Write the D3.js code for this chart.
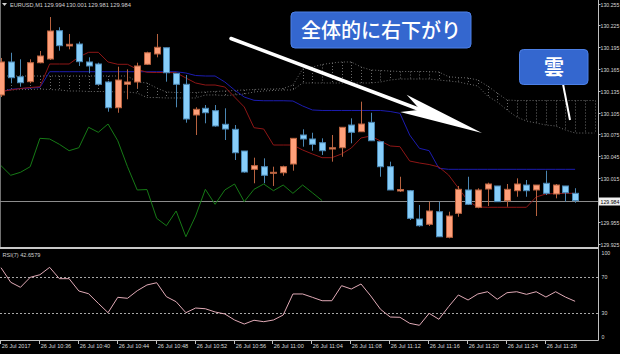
<!DOCTYPE html>
<html><head><meta charset="utf-8">
<script src="https://cdn.jsdelivr.net/npm/d3@7"></script>
<style>html,body{margin:0;padding:0;background:#000;overflow:hidden}</style>
</head><body><svg id="c" width="620" height="354"></svg>
<script>
const symbol = "EURUSD,M1";
const lastOHLC = ["129.994", "130.001", "129.981", "129.984"];
const opens = [130.1292,130.1746,130.1543,130.1475,130.1736,130.1787,130.2176,130.1966,130.1993,130.1746,
130.1718,130.1471,130.1117,130.1439,130.1471,130.1714,130.1856,130.1942,130.1590,130.1439,
130.1017,130.1109,130.1076,130.0889,130.0820,130.0522,130.0270,130.0306,130.0215,130.0223,
130.0343,130.0742,130.0687,130.0636,130.0549,130.0567,130.0879,130.0787,130.0916,130.0650,
130.0306,129.9972,129.9976,129.9587,129.9514,129.9687,129.9335,129.9665,129.9986,129.9748,
129.9999,130.0041,129.9838,129.9976,130.0054,129.9986,130.0078,129.9931,130.0041,129.9940];
const highs = [130.1801,130.1873,130.1783,130.1783,130.1897,130.2364,130.2223,130.2131,130.2025,130.1810,
130.1736,130.1488,130.1681,130.1645,130.1736,130.1887,130.2131,130.1942,130.1590,130.1567,
130.1123,130.1154,130.1154,130.1109,130.0879,130.0522,130.0430,130.0421,130.0306,130.0320,
130.0696,130.0820,130.0773,130.0696,130.0742,130.0848,130.0971,130.1200,130.1048,130.0650,
130.0375,130.0168,129.9986,129.9779,129.9825,129.9825,129.9687,130.0041,130.0168,130.0009,
130.0086,130.0041,130.0068,130.0146,130.0123,130.0054,130.0251,130.0068,130.0041,130.0010];
const lows = [130.1264,130.1453,130.1406,130.1453,130.1728,130.1773,130.1901,130.1920,130.1691,130.1590,
130.1429,130.1062,130.1048,130.1233,130.1384,130.1704,130.1810,130.1475,130.1123,130.0911,
130.0742,130.0903,130.0856,130.0673,130.0398,130.0223,130.0078,130.0078,130.0041,130.0182,
130.0251,130.0581,130.0526,130.0467,130.0375,130.0443,130.0628,130.0787,130.0663,130.0168,
129.9986,129.9958,129.9573,129.9481,129.9491,129.9343,129.9321,129.9618,129.9779,129.9734,
129.9766,129.9825,129.9756,129.9893,129.9893,129.9628,129.9917,129.9871,129.9825,129.9810];
const closes = [130.1746,130.1530,130.1461,130.1736,130.1828,130.2172,130.1970,130.1989,130.1750,130.1691,
130.1439,130.1117,130.1498,130.1471,130.1691,130.1873,130.1948,130.1598,130.1439,130.0962,
130.1095,130.1048,130.0866,130.0824,130.0498,130.0233,130.0320,130.0188,130.0229,130.0306,
130.0696,130.0687,130.0614,130.0526,130.0567,130.0848,130.0779,130.0893,130.0663,130.0306,
129.9986,129.9992,129.9596,129.9495,129.9697,129.9343,129.9628,129.9995,129.9789,129.9986,
130.0068,129.9825,129.9995,130.0068,129.9976,130.0054,129.9940,130.0054,129.9948,129.9840];
const tenkan = [130.1340,130.1361,130.1381,130.1395,130.1406,130.1718,130.1718,130.1718,130.1814,130.1879,
130.1879,130.1746,130.1714,130.1714,130.1645,130.1604,130.1601,130.1601,130.1598,130.1526,
130.1457,130.1429,130.1429,130.1402,130.1264,130.1127,130.0842,130.0824,130.0604,130.0604,
130.0604,130.0536,130.0481,130.0430,130.0430,130.0481,130.0563,130.0701,130.0728,130.0659,
130.0591,130.0581,130.0384,130.0357,130.0336,130.0302,130.0192,130.0013,129.9834,129.9752,
129.9748,129.9748,129.9748,129.9748,129.9748,129.9889,129.9931,129.9937,129.9940,129.9940];
const kijun = [130.1333,130.1370,130.1381,130.1388,130.1395,130.1612,130.1612,130.1612,130.1612,130.1612,
130.1612,130.1612,130.1612,130.1612,130.1612,130.1612,130.1612,130.1612,130.1612,130.1594,
130.1560,130.1553,130.1553,130.1471,130.1361,130.1264,130.1219,130.1213,130.1213,130.1213,
130.1209,130.1141,130.1086,130.1079,130.1079,130.1079,130.1079,130.1079,130.1079,130.1079,
130.1065,130.1040,130.0742,130.0559,130.0526,130.0284,130.0270,130.0270,130.0270,130.0270,
130.0270,130.0270,130.0270,130.0270,130.0270,130.0270,130.0270,130.0270,130.0270,130.0270];
const cloudUpper = [130.1553,130.1553,130.1553,130.1553,130.1553,130.1553,130.1553,130.1553,130.1553,130.1553,
130.1553,130.1553,130.1553,130.1553,130.1471,130.1457,130.1388,130.1333,130.1326,130.1326,
130.1326,130.1333,130.1340,130.1347,130.1354,130.1361,130.1367,130.1374,130.1374,130.1381,
130.1429,130.1649,130.1677,130.1711,130.1732,130.1746,130.1746,130.1677,130.1636,130.1629,
130.1622,130.1615,130.1615,130.1615,130.1615,130.1608,130.1543,130.1532,130.1526,130.1498,
130.1416,130.1319,130.1223,130.1216,130.1216,130.1216,130.1216,130.1216,130.1216,130.1216,
130.1216,130.1216];
const cloudLower = [130.1374,130.1361,130.1367,130.1367,130.1374,130.1367,130.1361,130.1347,130.1347,130.1340,
130.1340,130.1340,130.1333,130.1333,130.1319,130.1257,130.1257,130.1251,130.1251,130.1251,
130.1251,130.1292,130.1292,130.1285,130.1292,130.1306,130.1333,130.1347,130.1354,130.1361,
130.1361,130.1457,130.1457,130.1457,130.1457,130.1457,130.1457,130.1457,130.1457,130.1471,
130.1498,130.1512,130.1512,130.1512,130.1512,130.1498,130.1484,130.1471,130.1443,130.1416,
130.1278,130.1196,130.1086,130.0989,130.0934,130.0907,130.0879,130.0866,130.0811,130.0769,
130.0769,130.0769];
const rsi = [80.0,63.8,58.2,69.3,72.2,80.4,67.8,67.8,54.1,51.1,
40.4,30.0,47.1,46.0,54.4,60.8,63.3,47.8,42.2,30.0,
35.2,34.4,30.8,28.6,21.9,17.4,21.6,20.0,21.9,27.4,
50.8,50.8,47.1,43.3,43.3,60.0,56.3,61.9,48.6,33.8,
25.2,24.9,18.2,16.0,29.3,22.7,36.7,49.7,44.1,50.8,
53.3,44.9,52.2,53.3,50.4,53.3,47.4,53.3,47.4,42.66];
const rsiLabel = "RSI(7) 42.6579";
const chikouShift = 26;
const priceTicks = [130.255,130.225,130.195,130.165,130.135,130.105,130.075,130.045,130.015,129.955,129.925];
const currentPrice = 129.984;
const rsiTicks = [100,70,30,0];
const rsiLevels = [70,30];
const timeTickIdx = [0,4,8,12,16,20,24,28,32,36,40,44,48,52,56];
const timeTickLabels = ["26 Jul 2017","26 Jul 10:36","26 Jul 10:40","26 Jul 10:44","26 Jul 10:48","26 Jul 10:52","26 Jul 10:56","26 Jul 11:00","26 Jul 11:04","26 Jul 11:08","26 Jul 11:12","26 Jul 11:16","26 Jul 11:20","26 Jul 11:24","26 Jul 11:28"];
const note1 = "全体的に右下がり";
const note2 = "雲";

const svg = d3.select("#c");
const W = 620, H = 354, axisX = 598.5, mainBottom = 247, botY = 340.5;
svg.append("rect").attr("width",W).attr("height",H).attr("fill","#000");

const x = d3.scaleLinear().domain([0,59]).range([1,575.1]);
const y = d3.scaleLinear().domain([129.925,130.255]).range([243.5,3.5]);
const ry = d3.scaleLinear().domain([0,100]).range([339.7,249.7]);
const lab = "Liberation Sans, Arial, sans-serif";
const axFs = 5.2;

const defs = svg.append("defs");
defs.append("clipPath").attr("id","mainClip").append("rect").attr("x",0).attr("y",0).attr("width",axisX).attr("height",mainBottom);
defs.append("clipPath").attr("id","rsiClip").append("rect").attr("x",0).attr("y",249).attr("width",axisX).attr("height",botY-249);

const main = svg.append("g").attr("clip-path","url(#mainClip)");

main.append("line").attr("x1",0.5).attr("x2",0.5).attr("y1",0).attr("y2",mainBottom).attr("stroke","#707070");

// cloud
const cloudIdx = d3.range(cloudUpper.length);
const cloudG = main.append("g").attr("stroke","#6c6c6c").attr("stroke-width",1).attr("stroke-dasharray","1,2").attr("fill","none");
cloudIdx.forEach(i=>{
  cloudG.append("line").attr("x1",Math.round(x(i))+0.5).attr("x2",Math.round(x(i))+0.5)
    .attr("y1",y(cloudUpper[i])).attr("y2",y(cloudLower[i]));
});
cloudG.append("path").attr("d",d3.line().x(i=>x(i)).y(i=>y(cloudUpper[i]))(cloudIdx));
cloudG.append("path").attr("d",d3.line().x(i=>x(i)).y(i=>y(cloudLower[i]))(cloudIdx));

// current price line
main.append("line").attr("x1",0).attr("x2",axisX).attr("y1",Math.round(y(currentPrice))+0.5).attr("y2",Math.round(y(currentPrice))+0.5).attr("stroke","#8c8c8c");

// chikou
const chIdx = d3.range(closes.length - chikouShift);
main.append("path").attr("d",d3.line().x(j=>x(j)).y(j=>y(closes[j+chikouShift]))(chIdx))
  .attr("fill","none").attr("stroke","#167a16").attr("stroke-width",1);

// tenkan / kijun
const idx = d3.range(closes.length);
main.append("path").attr("d",d3.line().x(i=>x(i)).y(i=>y(kijun[i]))(idx)).attr("fill","none").attr("stroke","#1c1cb0").attr("stroke-width",1);
main.append("path").attr("d",d3.line().x(i=>x(i)).y(i=>y(tenkan[i]))(idx)).attr("fill","none").attr("stroke","#8e1616").attr("stroke-width",1);

// candles
const cg = main.append("g");
idx.forEach(i=>{
  const bull = closes[i] >= opens[i];
  const cx = Math.round(x(i));
  const wick = bull ? "#b8623f" : "#4a86b2";
  const fill = bull ? "#ffa07a" : "#87cefa";
  cg.append("line").attr("x1",cx+0.5).attr("x2",cx+0.5).attr("y1",y(highs[i])).attr("y2",y(lows[i])).attr("stroke",wick).attr("stroke-width",1);
  const top = y(Math.max(opens[i],closes[i])), bot = y(Math.min(opens[i],closes[i]));
  cg.append("rect").attr("x",cx-2.5).attr("y",top).attr("width",6).attr("height",Math.max(1,bot-top))
    .attr("fill",fill).attr("stroke",wick).attr("stroke-width",1);
});

// separator
svg.append("rect").attr("x",0).attr("y",mainBottom).attr("width",axisX).attr("height",2).attr("fill","#c8c8c8");

// RSI panel
const rg = svg.append("g").attr("clip-path","url(#rsiClip)");
rsiLevels.forEach(l=>{
  rg.append("line").attr("x1",0).attr("x2",axisX).attr("y1",Math.round(ry(l))+0.5).attr("y2",Math.round(ry(l))+0.5)
    .attr("stroke","#a8a8a8").attr("stroke-dasharray","2,2");
});
rg.append("path").attr("d",d3.line().x(i=>x(i)).y(i=>ry(rsi[i]))(idx)).attr("fill","none").attr("stroke","#e0aab6").attr("stroke-width",1);
svg.append("text").attr("x",2.5).attr("y",256.5).attr("fill","#d0d0d0").attr("font-family",lab).attr("font-size",5.6).text(rsiLabel);

// axes lines
svg.append("line").attr("x1",axisX).attr("x2",axisX).attr("y1",0).attr("y2",botY).attr("stroke","#c0c0c0");
svg.append("line").attr("x1",0).attr("x2",axisX).attr("y1",botY).attr("y2",botY).attr("stroke","#c0c0c0");

// price axis
priceTicks.forEach(p=>{
  const yy = Math.round(y(p))+0.5;
  svg.append("line").attr("x1",axisX).attr("x2",axisX+2).attr("y1",yy).attr("y2",yy).attr("stroke","#c0c0c0");
  svg.append("text").attr("x",600.6).attr("y",yy+2).attr("fill","#d8d8d8").attr("font-family",lab).attr("font-size",axFs).text(d3.format(".3f")(p));
});
const cpy = Math.round(y(currentPrice))+0.5;
svg.append("rect").attr("x",599).attr("y",cpy-4).attr("width",21).attr("height",8).attr("fill","#f0f0f0");
svg.append("text").attr("x",600.6).attr("y",cpy+2).attr("fill","#000").attr("font-family",lab).attr("font-size",axFs).text(d3.format(".3f")(currentPrice));

// rsi axis
rsiTicks.forEach(v=>{
  const yy = Math.min(Math.max(ry(v),252.7),336.7);
  svg.append("text").attr("x",601.5).attr("y",yy+2).attr("fill","#d8d8d8").attr("font-family",lab).attr("font-size",axFs).text(v);
});

// time axis
timeTickIdx.forEach((b,k)=>{
  const tx = Math.max(0.5, Math.round(x(b))-0.5);
  svg.append("line").attr("x1",tx).attr("x2",tx).attr("y1",botY).attr("y2",botY+3.5).attr("stroke","#c0c0c0");
  svg.append("text").attr("x",tx+1.2).attr("y",348).attr("fill","#d8d8d8").attr("font-family",lab).attr("font-size",5.6).text(timeTickLabels[k]);
});

// header
svg.append("path").attr("d","M2,3 L7,3 L4.5,6 Z").attr("fill","#d0d0d0");
svg.append("text").attr("x",10).attr("y",6.5).attr("fill","#d0d0d0").attr("font-family",lab).attr("font-size",5.6).text(symbol);
lastOHLC.forEach((v,k)=>{
  svg.append("text").attr("x",44+k*22).attr("y",6.5).attr("fill","#d0d0d0").attr("font-family",lab).attr("font-size",5.8).text(v);
});

// annotations
const ann = svg.append("g");
const tip = [482,133], tail = [231,38.5];
const ang = Math.atan2(tip[1]-tail[1], tip[0]-tail[0]);
const c = Math.cos(ang), s = Math.sin(ang);
const P = (a,pp)=>[tip[0]+a*c - pp*s, tip[1]+a*s + pp*c];
const notch = P(-66,0);
ann.append("line").attr("x1",tail[0]).attr("y1",tail[1]).attr("x2",notch[0]).attr("y2",notch[1]).attr("stroke","#fff").attr("stroke-width",3.5).attr("stroke-linecap","round");
ann.append("path").attr("d","M"+[tip,P(-84,-9.3),notch,P(-84,9.3)].map(p=>p.join(",")).join("L")+"Z").attr("fill","#fff");
ann.append("rect").attr("x",291).attr("y",12).attr("width",180).attr("height",36).attr("rx",4).attr("fill","#3467cf").attr("stroke","#4d80e6").attr("stroke-width",1);
ann.append("text").attr("x",381).attr("y",37.5).attr("text-anchor","middle").attr("fill","#fff").attr("font-family","Noto Sans CJK JP").attr("font-size",20).attr("font-weight",500).text(note1);
ann.append("line").attr("x1",563).attr("y1",84).attr("x2",570).attr("y2",120).attr("stroke","#fff").attr("stroke-width",2);
ann.append("rect").attr("x",519.5).attr("y",49.5).attr("width",68.5).attr("height",35).attr("rx",4).attr("fill","#3467cf").attr("stroke","#4d80e6").attr("stroke-width",1);
ann.append("text").attr("x",554).attr("y",74.5).attr("text-anchor","middle").attr("fill","#fff").attr("font-family","Noto Sans CJK JP").attr("font-size",20).attr("font-weight",700).text(note2);
</script>
</body></html>
